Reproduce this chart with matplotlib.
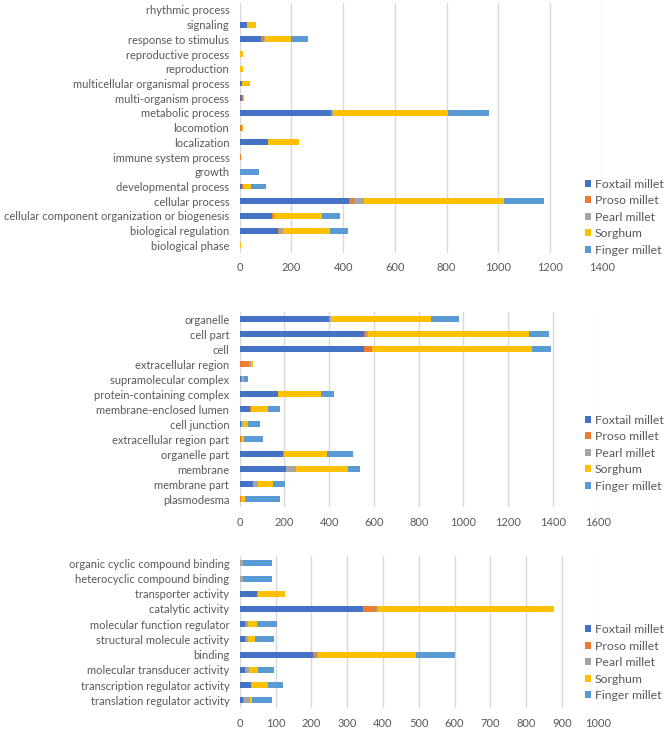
import matplotlib
matplotlib.use('Agg')
import matplotlib.pyplot as plt
import numpy as np

# Lato is the closest installed match to the Calibri look of the original
plt.rcParams['font.family'] = ['Lato', 'DejaVu Sans']

series = ['Foxtail millet', 'Proso millet', 'Pearl millet', 'Sorghum', 'Finger millet']
colors = ['#4472C4', '#ED7D31', '#A5A5A5', '#FFC000', '#5B9BD5']
text_col = '#595959'

# biological process (bottom to top)
bp_cats = ['biological phase', 'biological regulation',
           'cellular component organization or biogenesis', 'cellular process',
           'developmental process', 'growth', 'immune system process',
           'localization', 'locomotion', 'metabolic process',
           'multi-organism process', 'multicellular organismal process',
           'reproduction', 'reproductive process', 'response to stimulus',
           'signaling', 'rhythmic process']
bp_foxtail = [0, 148, 126, 423, 10, 0, 0, 111, 0, 352, 8, 8, 3, 3, 83, 27, 0]
bp_proso = [0, 3, 5, 18, 1, 0, 6, 0, 9, 5, 5, 2, 0, 0, 10, 3, 0]
bp_pearl = [0, 17, 2, 39, 0, 0, 0, 0, 0, 3, 0, 0, 0, 0, 3, 0, 2]
bp_sorghum = [5, 181, 187, 544, 33, 0, 0, 120, 3, 447, 5, 28, 10, 10, 103, 33, 0]
bp_finger = [0, 69, 67, 153, 57, 76, 0, 0, 0, 156, 0, 0, 0, 0, 66, 0, 0]

# cellular component (bottom to top)
cc_cats = ['plasmodesma', 'membrane part', 'membrane', 'organelle part',
           'extracellular region part', 'cell junction', 'membrane-enclosed lumen',
           'protein-containing complex', 'supramolecular complex',
           'extracellular region', 'cell', 'cell part', 'organelle']
cc_foxtail = [3, 59, 205, 194, 2, 5, 48, 169, 8, 1, 554, 554, 397]
cc_proso = [3, 2, 4, 2, 2, 3, 1, 4, 3, 39, 35, 10, 4]
cc_pearl = [2, 21, 42, 0, 6, 5, 0, 0, 10, 10, 0, 11, 5]
cc_sorghum = [15, 68, 232, 193, 9, 25, 79, 189, 0, 9, 719, 719, 449]
cc_finger = [157, 53, 56, 119, 85, 52, 54, 58, 15, 0, 84, 90, 125]

# molecular function (bottom to top)
mf_cats = ['translation regulator activity', 'transcription regulator activity',
           'molecular transducer activity', 'binding',
           'structural molecule activity', 'molecular function regulator',
           'catalytic activity', 'transporter activity',
           'heterocyclic compound binding', 'organic cyclic compound binding']
mf_foxtail = [10, 31, 14, 206, 16, 16, 344, 47, 0, 0]
mf_proso = [2, 0, 2, 8, 1, 1, 38, 0, 0, 0]
mf_pearl = [17, 0, 9, 6, 6, 5, 5, 3, 8, 8]
mf_sorghum = [6, 49, 25, 272, 19, 27, 490, 77, 0, 0]
mf_finger = [54, 40, 47, 109, 54, 56, 0, 0, 83, 82]

fig = plt.figure(figsize=(6.69, 7.29), dpi=100)


def panel(rect, cats, data, xmax, step, leg_y):
    ax = fig.add_axes(rect)
    y = np.arange(len(cats))
    left = np.zeros(len(cats))
    for vals, c, name in zip(data, colors, series):
        ax.barh(y, vals, left=left, height=0.4, color=c, label=name, zorder=3)
        left += np.array(vals)
    ax.set_xlim(0, xmax)
    ax.set_ylim(-0.5, len(cats) - 0.5)
    ax.set_xticks(np.arange(0, xmax + 1, step))
    ax.set_yticks(y)
    ax.set_yticklabels(cats)
    ax.grid(axis='x', color='#D9D9D9', linewidth=1, zorder=0)
    for s in ax.spines.values():
        s.set_visible(False)
    ax.tick_params(axis='both', length=0, colors=text_col, labelsize=8.0)
    ax.tick_params(axis='x', pad=7)
    ax.tick_params(axis='y', pad=7.5)
    ax.legend(loc='upper left', bbox_to_anchor=(0.874, leg_y),
              bbox_transform=fig.transFigure, frameon=False,
              handlelength=0.5, handleheight=0.5, handletextpad=0.35,
              labelspacing=0.45, fontsize=8.8, labelcolor=text_col,
              borderpad=0, borderaxespad=0)
    return ax


panel([0.3583, 0.6534, 0.541, 0.343], bp_cats,
      [bp_foxtail, bp_proso, bp_pearl, bp_sorghum, bp_finger], 1400, 200, 0.755)
panel([0.3583, 0.3048, 0.5352, 0.2679], cc_cats,
      [cc_foxtail, cc_proso, cc_pearl, cc_sorghum, cc_finger], 1600, 200, 0.4314)
panel([0.3583, 0.0289, 0.5352, 0.2088], mf_cats,
      [mf_foxtail, mf_proso, mf_pearl, mf_sorghum, mf_finger], 1000, 100, 0.144)

fig.savefig('out.png', dpi=100)
